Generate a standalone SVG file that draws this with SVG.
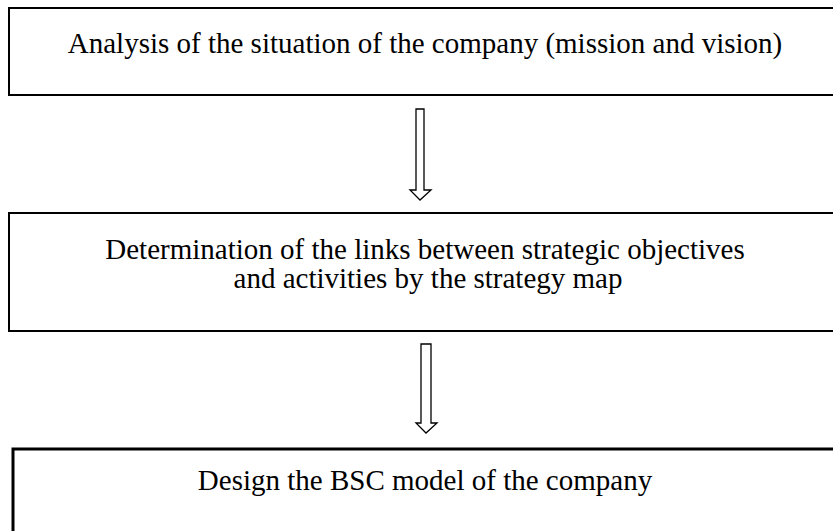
<svg xmlns="http://www.w3.org/2000/svg" width="833" height="531" viewBox="0 0 833 531">
<style>
.box{fill:#fff;stroke:#000;stroke-width:2}
.t{font-family:"Liberation Serif","Times New Roman",serif;font-size:29px;fill:#000;text-anchor:middle}
.arr{fill:#fff;stroke:#000;stroke-width:1.3;stroke-linejoin:miter}
</style>
<rect width="833" height="531" fill="#fff"/>
<g id="n1">
<rect class="box" x="9" y="8" width="830" height="87"/>
<text class="t" x="425" y="53">Analysis of the situation of the company (mission and vision)</text>
</g>
<g id="n2">
<rect class="box" x="9" y="213" width="830" height="118"/>
<text class="t" x="425" y="259">Determination of the links between strategic objectives</text>
<text class="t" x="428" y="288">and activities by the strategy map</text>
</g>
<g id="n3">
<rect class="box" x="13" y="449" width="830" height="90" style="stroke-width:3"/>
<text class="t" x="425" y="490">Design the BSC model of the company</text>
</g>
<g id="connectors">
<path class="arr" d="M416,109 H424 V190 H431 L420,200 L410,190 H416 Z"/>
<path class="arr" d="M421,344 H431 V423 H437 L426,433 L416,423 H421 Z"/>
</g>
</svg>
